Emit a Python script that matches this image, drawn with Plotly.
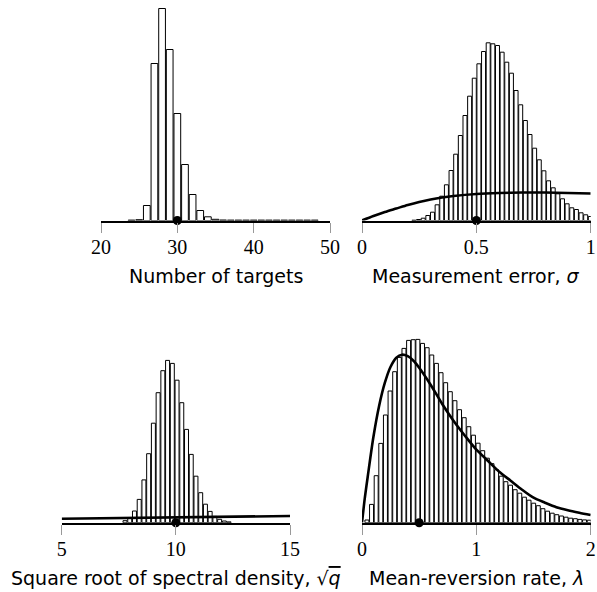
import numpy as np
import plotly.graph_objects as go

OFF = 0
W, H = 597, 592

# ---------------- data (arbitrary frequency units) ----------------
# Panel 1: Number of targets (integer bins)
targets_x = list(range(24, 49))
targets_freq = [0.4, 0.8, 15, 157, 212, 171, 107, 56, 26, 10, 3.7, 1.2,
                0.5, 0.4, 0.4, 0.4, 0.4, 0.4, 0.4, 0.4, 0.4, 0.4, 0.4, 0.4, 0.4]
targets_true = 30

# Panel 2: Measurement error sigma
sigma_bin_start = 0.227
sigma_bin_step = 0.0203
sigma_freq = [0.3, 1.0, 2.3, 5, 8.3, 15.7, 24.3, 35.7, 50, 66.3, 85, 105, 124.3,
              142.3, 156.7, 169, 177.7, 176.7, 175, 168.3, 158.3, 147.3, 130,
              115.7, 100, 86, 72.3, 60.7, 49.7, 39.7, 32.7, 26.7, 21.7, 16.7,
              12.7, 11, 7.7, 5.7, 4]
sigma_prior_x = [0, 0.05, 0.1, 0.15, 0.2, 0.25, 0.3, 0.35, 0.4, 0.5, 0.6, 0.7, 0.8, 0.9, 1.0]
sigma_prior_y = [0, 4.5, 8.5, 12, 15.5, 18.5, 21, 23, 24.5, 26.5, 27.5, 28, 28, 27.5, 27]
sigma_true = 0.5

# Panel 3: Square root of spectral density
q_bin_start = 7.773
q_bin_step = 0.2072
q_freq = [2, 4.3, 11.7, 23.3, 42.8, 69, 99.5, 130, 152, 162.3, 159.3, 142.5,
          120, 93.3, 68.3, 46.5, 30, 18.5, 11.3, 6.3, 3.4, 1.7, 0.8]
q_prior_x = [5, 15]
q_prior_y = [4.0, 6.7]
q_true = 10

# Panel 4: Mean-reversion rate lambda
lam_bin_start = 0.043
lam_bin_step = 0.0405
lam_freq = [2.7, 18.3, 47, 79.3, 107.7, 131.7, 151, 165.3, 174.3, 182.3, 183,
            183.3, 179.3, 175, 167.7, 159.3, 150, 140, 131, 122, 113, 105, 96,
            87.5, 79.5, 72, 64.5, 59, 53, 46.5, 41, 37.5, 33, 29.5, 25.5, 22.5,
            19.5, 17, 14, 11.5, 9.5, 8, 6.7, 5.5, 4.5, 4, 3.3, 2.8, 2.5]
lam_prior_x = [0, 0.025, 0.05, 0.1, 0.15, 0.2, 0.25, 0.3, 0.35, 0.4, 0.45, 0.5,
               0.6, 0.7, 0.8, 0.9, 1.0, 1.1, 1.2, 1.3, 1.4, 1.5, 1.6, 1.7, 1.8, 1.9, 2.0]
lam_prior_y = [0, 25, 46, 86, 117, 140, 156, 165, 168, 166.5, 162, 155,
               138, 119, 102, 87, 73, 62, 51, 42, 33, 25, 20, 15.5, 12.5, 10, 7.7]
lam_true = 0.5

titles = ["Number of targets", "Measurement error, <i>σ</i>",
          "Square root of spectral density, √<span style='text-decoration:overline'><i>q</i></span>",
          "Mean-reversion rate, <i>λ</i>"]
ticks = [[20, 30, 40, 50], [0, 0.5, 1], [5, 10, 15], [0, 1, 2]]
tick_text = [["20", "30", "40", "50"], ["0", "0.5", "1"], ["5", "10", "15"], ["0", "1", "2"]]
xranges = [[20, 50], [0, 1], [5, 15], [0, 2]]

# ---------------- layout geometry (pixels in the final picture) ----------------
px_x = [(101, 330), (362, 590.7), (61.7, 290), (362, 590.7)]
base_y = [220.5, 220.5, 522.7, 522.7]
top_y = [0, 0, 302, 302]
title_y = [276, 276, 578, 578]

fig = go.Figure()

def add_hist(i, x, y, width):
    ax = "" if i == 0 else str(i + 1)
    fig.add_trace(go.Bar(x=x, y=y, width=width, marker=dict(color="white",
                  line=dict(color="black", width=1)), xaxis="x" + ax, yaxis="y" + ax,
                  showlegend=False, hoverinfo="skip"))

def add_line(i, x, y):
    ax = "" if i == 0 else str(i + 1)
    fig.add_trace(go.Scatter(x=x, y=y, mode="lines", line=dict(color="black", width=2.6, shape="spline", smoothing=0.8),
                             xaxis="x" + ax, yaxis="y" + ax, showlegend=False, cliponaxis=False))

def add_dot(i, x):
    ax = "" if i == 0 else str(i + 1)
    fig.add_trace(go.Scatter(x=[x], y=[0], mode="markers", marker=dict(color="black", size=9),
                             xaxis="x" + ax, yaxis="y" + ax, showlegend=False, cliponaxis=False))

add_hist(0, targets_x, targets_freq, 0.88)
add_dot(0, targets_true)

sx = sigma_bin_start + sigma_bin_step * np.arange(len(sigma_freq))
add_hist(1, sx, sigma_freq, sigma_bin_step * 0.86)
add_line(1, sigma_prior_x, sigma_prior_y)
add_dot(1, sigma_true)

qx = q_bin_start + q_bin_step * np.arange(len(q_freq))
add_hist(2, qx, q_freq, q_bin_step * 0.84)
add_line(2, q_prior_x, q_prior_y)
add_dot(2, q_true)

lx = lam_bin_start + lam_bin_step * np.arange(len(lam_freq))
add_hist(3, lx, lam_freq, lam_bin_step * 0.86)
add_line(3, lam_prior_x, lam_prior_y)
add_dot(3, lam_true)

layout = dict(template="none", width=W, height=H,
              margin=dict(l=0, r=0, t=0, b=0, pad=0, autoexpand=False),
              plot_bgcolor="white", paper_bgcolor="white", barmode="overlay",
              font=dict(family="DejaVu Sans", color="black"))
annotations = []
for i in range(4):
    ax = "" if i == 0 else str(i + 1)
    x0, x1 = px_x[i][0] - OFF, px_x[i][1] - OFF
    b, t = base_y[i] - OFF, top_y[i] - OFF
    layout["xaxis" + ax] = dict(domain=[x0 / W, x1 / W], range=xranges[i], anchor="y" + ax,
                                automargin=False, ticklabeloverflow="allow",
                                showgrid=False, zeroline=False, showline=True, linecolor="black",
                                linewidth=2, ticks="outside", ticklen=10, tickwidth=1,
                                tickcolor="#999999", tickvals=ticks[i], ticktext=tick_text[i],
                                ticklabelstandoff=-3,
                                tickfont=dict(family="Liberation Serif", size=20, color="black"))
    layout["yaxis" + ax] = dict(domain=[1 - b / H, 1 - t / H],
                                range=[0, b - t], anchor="x" + ax,
                                automargin=False,
                                visible=False, showgrid=False, zeroline=False)
    annotations.append(dict(text=titles[i], x=(x0 + x1) / 2 / W, y=1 - (title_y[i] - OFF) / H,
                            xref="paper", yref="paper", xanchor="center", yanchor="middle",
                            showarrow=False, font=dict(family="DejaVu Sans", size=19, color="black")))
layout["annotations"] = annotations
fig.update_layout(**layout)
fig.write_html("out.html", config={"displayModeBar": False},
               post_script="document.body.style.margin='0';document.body.style.overflow='hidden';")
